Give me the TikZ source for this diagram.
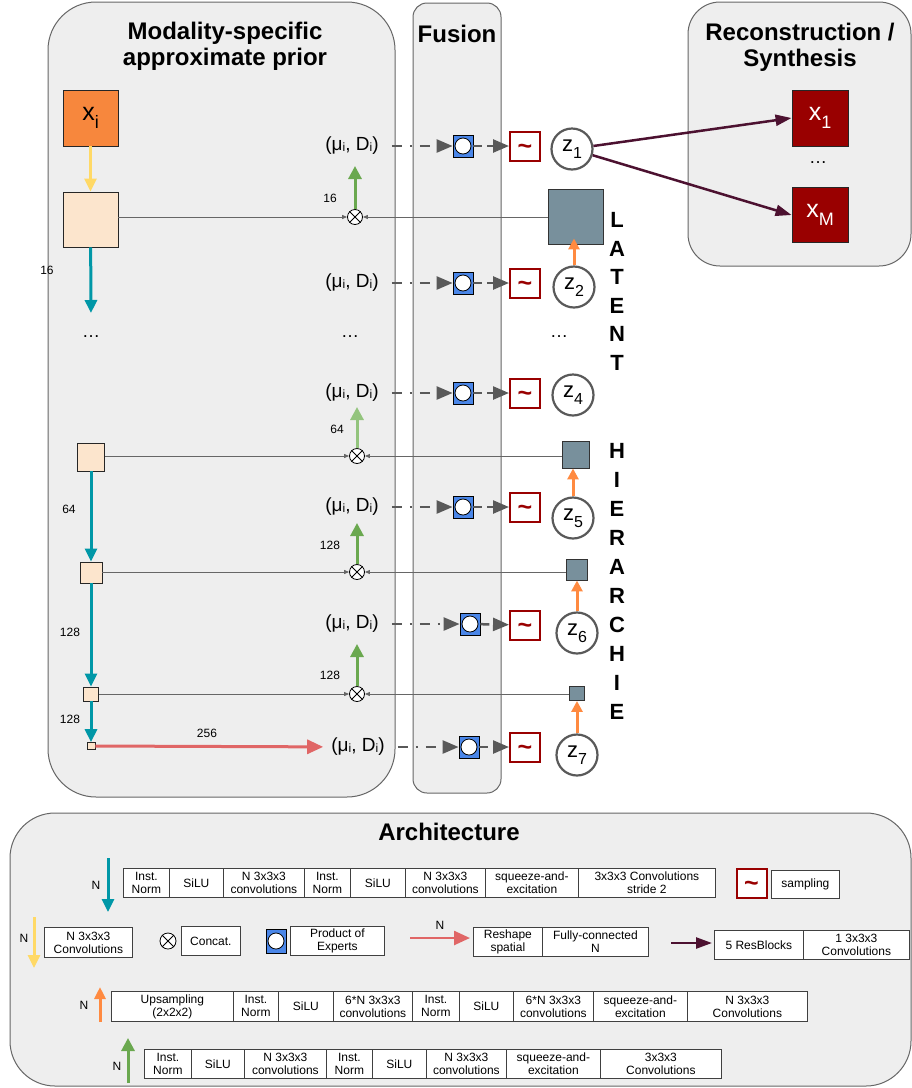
\documentclass[tikz,border=0pt]{standalone}
\usepackage{fontspec}
\setmainfont{Liberation Sans}
\usetikzlibrary{arrows.meta}
\definecolor{panelfill}{HTML}{EEEEEE}
\definecolor{panelline}{HTML}{666666}
\definecolor{xorange}{HTML}{F7873D}
\definecolor{beige}{HTML}{FCE5CD}
\definecolor{tealc}{HTML}{0097A7}
\definecolor{yell}{HTML}{FFD966}
\definecolor{greenc}{HTML}{6AA84F}
\definecolor{lgreen}{HTML}{93C47D}
\definecolor{redarr}{HTML}{E06666}
\definecolor{darkred}{HTML}{990000}
\definecolor{latgray}{HTML}{78909C}
\definecolor{orarr}{HTML}{FF8A40}
\definecolor{purp}{HTML}{4C1130}
\definecolor{poeblue}{HTML}{4A86E8}
\definecolor{arrgray}{HTML}{595959}
\newcommand{\myfs}[2]{\fontsize{#1}{#2}\selectfont}
\newcommand{\mulab}{(μ\raisebox{-1pt}{\myfs{12}{12}i}, D\raisebox{-1pt}{\myfs{12}{12}i})}
\newcommand{\zlab}[1]{z\raisebox{-7pt}{\myfs{16}{16}#1}}
\newcommand{\samptxt}{\textasciitilde}
\tikzset{
  panel/.style={draw=panelline, fill=panelfill, line width=1pt},
  ttl/.style={font=\bfseries\myfs{24}{26}, align=center},
  sqbox/.style={draw=black!85, line width=0.9pt, inner sep=0pt},
  xibox/.style={sqbox, fill=xorange, minimum width=55, minimum height=56, font=\myfs{25}{25}},
  beigebox/.style={sqbox, fill=beige},
  latbox/.style={draw=black!80, line width=0.9pt, fill=latgray, inner sep=0pt},
  concat/.style={circle, draw=black, fill=white, minimum size=15, inner sep=0pt, line width=0.8pt},
  mu/.style={font=\myfs{19}{21}, inner sep=1pt},
  poe/.style={draw=black, fill=poeblue, minimum width=20, minimum height=22, inner sep=0pt, line width=0.8pt},
  poec/.style={circle, draw=black, fill=white, minimum size=16, inner sep=0pt, line width=0.8pt},
  samp/.style={draw=darkred, line width=2pt, fill=white, minimum width=30, minimum height=29, inner sep=0pt, text=darkred, font=\bfseries\myfs{25}{25}, text height=16pt, text depth=0pt},
  zc/.style={circle, draw=arrgray, line width=2.2pt, fill=white, minimum size=41, inner sep=0pt, font=\myfs{22}{22}},
  num/.style={font=\myfs{12}{13}, inner sep=0pt},
  vlet/.style={font=\bfseries\myfs{22}{22}, inner sep=0pt},
  dotsn/.style={font=\myfs{18}{18}, inner sep=0pt},
  recbox/.style={sqbox, fill=darkred, minimum width=56, minimum height=56, text=white, font=\myfs{25}{25}},
  lb/.style={draw=black!75, fill=white, line width=0.8pt, inner sep=0pt, font=\myfs{12}{13}, align=center, anchor=north west},
  tarrow/.style={draw=tealc, line width=3pt, -{Triangle[length=13pt,width=12pt]}},
  yarrow/.style={draw=yell, line width=3pt, -{Triangle[length=13pt,width=12pt]}},
  garrow/.style={draw=greenc, line width=3pt, -{Triangle[length=13pt,width=13pt]}},
  lgarrow/.style={draw=lgreen, line width=3pt, -{Triangle[length=13pt,width=13pt]}},
  rarrow/.style={draw=redarr, line width=3pt, -{Triangle[length=16pt,width=14pt]}},
  oarrow/.style={draw=orarr, line width=3pt, -{Triangle[length=11pt,width=11pt]}},
  parrow/.style={draw=purp, line width=2.5pt, -{Triangle[length=16pt,width=11pt]}},
  thinarrow/.style={draw=panelline, line width=1pt, -{Triangle[length=5pt,width=4pt]}},
  ddarrow/.style={draw=arrgray, line width=2.5pt, dash pattern=on 10pt off 8pt on 2pt off 8pt, -{Triangle[length=16pt,width=13pt]}},
  darrow/.style={draw=arrgray, line width=2.5pt, dash pattern=on 9pt off 5pt, -{Triangle[length=16pt,width=13pt]}},
}
\newcommand{\lbox}[6]{\node[lb, minimum width={(#3)-(#2)}, minimum height={(#5)-(#4)}] (#1) at (#2,#4) {#6};}
\begin{document}
\begin{tikzpicture}[x=1pt,y=-1pt]
\useasboundingbox (0,0) rectangle (912,1088);
% panels
\path[panel, rounded corners=48pt] (48,2) rectangle (395,797);
\path[panel, rounded corners=14pt] (413,3) rectangle (501,793);
\path[panel, rounded corners=32pt] (688,2) rectangle (911,266);
\path[panel, rounded corners=45pt] (10,813) rectangle (911,1086);
% titles
\node[ttl] (tmod) at (225,46) {Modality-specific\\approximate prior};
\node[ttl] (tfus) at (457,34) {Fusion};
\node[ttl] (trec) at (800,47) {Reconstruction /\\Synthesis};
\node[ttl] (tarch) at (449,832) {Architecture};
% left column
\node[xibox] (xi) at (90.5,118) {x\raisebox{-8pt}{\myfs{18}{18}i}};
\node[beigebox, minimum width=55, minimum height=55] (b1) at (90.5,219.5) {};
\node[beigebox, minimum width=27, minimum height=28] (b2) at (91,457) {};
\node[beigebox, minimum width=22, minimum height=21] (b3) at (91,572.5) {};
\node[beigebox, minimum width=15, minimum height=14] (b4) at (91,694) {};
\node[beigebox, minimum width=8, minimum height=7, line width=0.7pt] (b5) at (91,746) {};
\node[dotsn] (ldots) at (91,337) {…};
\coordinate (t1) at (91,313);
\draw[yarrow] (xi) -- (b1);
\draw[tarrow] (b1) -- (t1);
\draw[tarrow] (b2) -- (b3);
\draw[tarrow] (b3) -- (b4);
\draw[tarrow] (b4) -- (b5);
\node[num] (n16a) at (47,270) {16};
\node[num] (n64a) at (69,509) {64};
\node[num] (n128a) at (70,632) {128};
\node[num] (n128b) at (70,719) {128};
% mu labels
\node[mu] (m1) at (352,146) {\mulab};
\node[mu] (m2) at (352,283) {\mulab};
\node[dotsn] (mdots) at (350,337) {…};
\node[mu] (m4) at (352,393) {\mulab};
\node[mu] (m5) at (352,507) {\mulab};
\node[mu] (m6) at (352,624) {\mulab};
\node[mu] (m7) at (358,747) {\mulab};
\draw[rarrow, shorten >=7pt] (b5) -- (m7);
\node[num] (n256) at (207,733) {256};
% latent boxes
\node[latbox, minimum width=55, minimum height=55] (L1) at (575.5,216.5) {};
\node[latbox, minimum width=27, minimum height=27] (L2) at (575.5,454.5) {};
\node[latbox, minimum width=21, minimum height=21] (L3) at (576.5,569.5) {};
\node[latbox, minimum width=15, minimum height=14] (L4) at (576.5,693.5) {};
% concat nodes
\node[concat] (c1) at (355,217) {};
\node[concat] (c2) at (357,456) {};
\node[concat] (c3) at (357,572) {};
\node[concat] (c4) at (357,694) {};
\foreach \c in {c1,c2,c3,c4}{
  \draw[line width=0.8pt] (\c.north east) -- (\c.south west) (\c.north west) -- (\c.south east);
}
\draw[thinarrow] (b1.east |- c1) -- (c1);
\draw[thinarrow] (L1.west |- c1) -- (c1);
\draw[thinarrow] (b2.east |- c2) -- (c2);
\draw[thinarrow] (L2.west |- c2) -- (c2);
\draw[thinarrow] (b3.east |- c3) -- (c3);
\draw[thinarrow] (L3.west |- c3) -- (c3);
\draw[thinarrow] (b4.east |- c4) -- (c4);
\draw[thinarrow] (L4.west |- c4) -- (c4);
\coordinate (g1) at (355,166);
\coordinate (g2) at (357,407);
\coordinate (g3) at (357,523);
\coordinate (g4) at (357,644);
\draw[garrow] (c1) -- (g1);
\draw[lgarrow] (c2) -- (g2);
\draw[garrow] (c3) -- (g3);
\draw[garrow] (c4) -- (g4);
\node[num] (n16b) at (330,198) {16};
\node[num] (n64b) at (337,429) {64};
\node[num] (n128c) at (330,545) {128};
\node[num] (n128d) at (330,675) {128};
% fusion: PoE and sampling
\node[poe] (p1) at (463,146) {}; \node[poec] (p1c) at (p1.center) {};
\node[poe] (p2) at (463,283) {}; \node[poec] (p2c) at (p2.center) {};
\node[poe] (p4) at (463,393) {}; \node[poec] (p4c) at (p4.center) {};
\node[poe] (p5) at (463,507) {}; \node[poec] (p5c) at (p5.center) {};
\node[poe] (p6) at (470,624) {}; \node[poec] (p6c) at (p6.center) {};
\node[poe] (p7) at (469,747) {}; \node[poec] (p7c) at (p7.center) {};
\node[samp] (s1) at (525,146) {\samptxt};
\node[samp] (s2) at (525,283) {\samptxt};
\node[samp] (s4) at (525,393) {\samptxt};
\node[samp] (s5) at (525,507) {\samptxt};
\node[samp] (s6) at (525,625) {\samptxt};
\node[samp] (s7) at (525,747) {\samptxt};
\foreach \k in {1,2,4,5,6}{
  \draw[ddarrow, shorten <=12pt] (m\k) -- (p\k);
  \draw[darrow] (p\k) -- (s\k);
}
\draw[ddarrow, shorten <=12pt] (m7) -- (p7);
\draw[darrow] (p7) -- (s7);
% z nodes
\node[zc] (z1) at (572,149) {\zlab{1}};
\node[zc] (z2) at (574,287) {\zlab{2}};
\node[dotsn] (zdots) at (559,337) {…};
\node[zc] (z4) at (573,395) {\zlab{4}};
\node[zc] (z5) at (573,518) {\zlab{5}};
\node[zc] (z6) at (577,633) {\zlab{6}};
\node[zc] (z7) at (577,755) {\zlab{7}};
\draw[oarrow, shorten >=-6pt] (z2.north) -- (z2.north |- L1.south);
\draw[oarrow] (z5.north) -- (z5.north |- L2.south);
\draw[oarrow] (z6.north) -- (z6.north |- L3.south);
\draw[oarrow] (z7.north) -- (z7.north |- L4.south);
% vertical words
\foreach \ch [count=\k] in {L,A,T,E,N,T}
  \node[vlet] (lat\k) at (617,{220+(\k-1)*28.6}) {\ch};
\foreach \ch [count=\k] in {H,I,E,R,A,R,C,H,I,E}
  \node[vlet] (hier\k) at (617,{451+(\k-1)*29}) {\ch};
% reconstruction
\node[recbox] (X1) at (820,118) {x\raisebox{-8pt}{\myfs{18}{18}1}};
\node[dotsn] (rdots) at (818,163) {…};
\node[recbox, minimum height=55] (XM) at (820,215) {x\raisebox{-8pt}{\myfs{18}{18}M}};
\draw[parrow] (z1) -- (X1.west);
\draw[parrow] (z1) -- (XM.west);
% ===== Architecture legend =====
% row 1
\coordinate (la1) at (108,858); \coordinate (la2) at (108,912);
\draw[tarrow] (la1) -- (la2);
\node[num] (ln1) at (96,885) {N};
\lbox{r1a}{123}{169}{868}{897}{Inst.\\Norm}
\lbox{r1b}{169}{223}{868}{897}{SiLU}
\lbox{r1c}{223}{304}{868}{897}{N 3x3x3\\convolutions}
\lbox{r1d}{304}{350}{868}{897}{Inst.\\Norm}
\lbox{r1e}{350}{405}{868}{897}{SiLU}
\lbox{r1f}{405}{485}{868}{897}{N 3x3x3\\convolutions}
\lbox{r1g}{485}{578}{868}{897}{squeeze-and-\\excitation}
\lbox{r1h}{578}{715}{868}{897}{3x3x3 Convolutions\\stride 2}
\node[samp] (lsamp) at (751.5,883.5) {\samptxt};
\lbox{r1i}{771}{839}{870}{898}{sampling}
% row 2
\coordinate (ly1) at (34,917); \coordinate (ly2) at (34,968);
\draw[yarrow] (ly1) -- (ly2);
\node[num] (ln2) at (24,938) {N};
\lbox{r2a}{44}{132}{927}{957}{N 3x3x3\\Convolutions}
\node[concat, minimum size=16] (lcc) at (168,941) {};
\draw[line width=0.8pt] (lcc.north east) -- (lcc.south west) (lcc.north west) -- (lcc.south east);
\lbox{r2b}{181}{240}{926}{955}{Concat.}
\node[poe, minimum height=24] (lpoe) at (276,941) {}; \node[poec] (lpoec) at (lpoe.center) {};
\lbox{r2c}{290}{384}{926}{955}{Product of\\Experts}
\coordinate (lr1) at (410,938); \coordinate (lr2) at (470,938);
\draw[rarrow, line width=2.5pt] (lr1) -- (lr2);
\node[num] (ln3) at (440,925) {N};
\lbox{r2d}{473}{542}{927}{956}{Reshape\\spatial}
\lbox{r2e}{542}{648}{927}{956}{Fully-connected\\N}
\coordinate (lp1) at (671,943); \coordinate (lp2) at (712,943);
\draw[parrow] (lp1) -- (lp2);
\lbox{r2f}{714}{803}{930}{959}{5 ResBlocks}
\lbox{r2g}{803}{909}{930}{959}{1 3x3x3\\Convolutions}
% row 3
\coordinate (lo1) at (100,1022); \coordinate (lo2) at (100,987);
\draw[oarrow, -{Triangle[length=12pt,width=11pt]}] (lo1) -- (lo2);
\node[num] (ln4) at (84,1005) {N};
\lbox{r3a}{111}{233}{991}{1021}{Upsampling\\(2x2x2)}
\lbox{r3b}{233}{278}{991}{1021}{Inst.\\Norm}
\lbox{r3c}{278}{333}{991}{1021}{SiLU}
\lbox{r3d}{333}{412}{991}{1021}{6*N 3x3x3\\convolutions}
\lbox{r3e}{412}{459}{991}{1021}{Inst.\\Norm}
\lbox{r3f}{459}{513}{991}{1021}{SiLU}
\lbox{r3g}{513}{593}{991}{1021}{6*N 3x3x3\\convolutions}
\lbox{r3h}{593}{687}{991}{1021}{squeeze-and-\\excitation}
\lbox{r3i}{687}{807}{991}{1021}{N 3x3x3\\Convolutions}
% row 4
\coordinate (lg1) at (128,1083); \coordinate (lg2) at (128,1038);
\draw[garrow] (lg1) -- (lg2);
\node[num] (ln5) at (117,1066) {N};
\lbox{r4a}{144}{191}{1049}{1078}{Inst.\\Norm}
\lbox{r4b}{191}{244}{1049}{1078}{SiLU}
\lbox{r4c}{244}{326}{1049}{1078}{N 3x3x3\\convolutions}
\lbox{r4d}{326}{372}{1049}{1078}{Inst.\\Norm}
\lbox{r4e}{372}{426}{1049}{1078}{SiLU}
\lbox{r4f}{426}{506}{1049}{1078}{N 3x3x3\\convolutions}
\lbox{r4g}{506}{600}{1049}{1078}{squeeze-and-\\excitation}
\lbox{r4h}{600}{721}{1049}{1078}{3x3x3\\Convolutions}
\end{tikzpicture}
\end{document}
